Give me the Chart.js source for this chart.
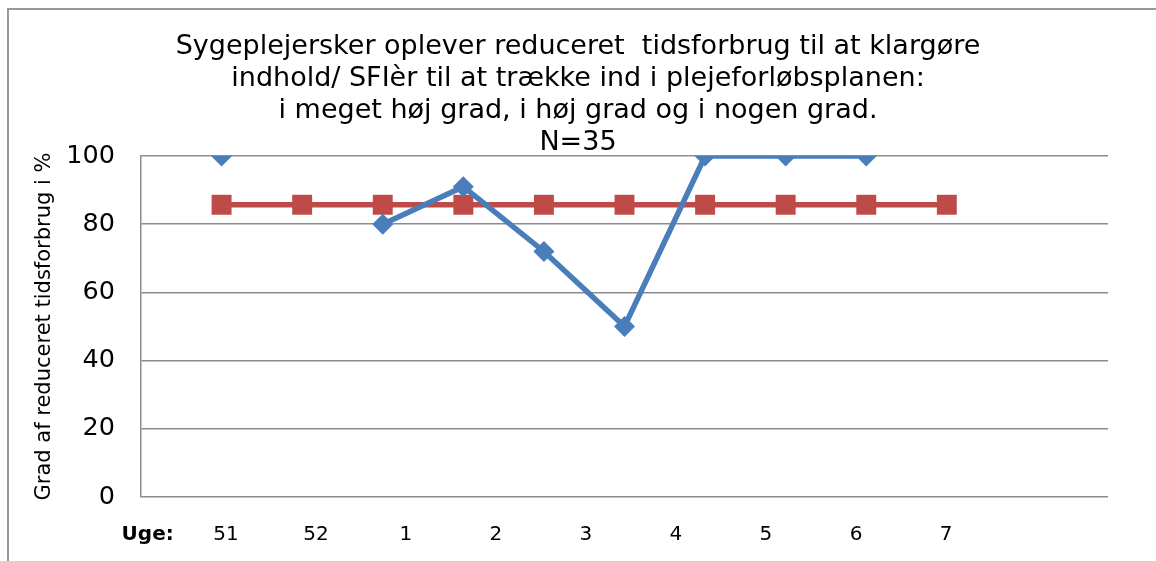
<!DOCTYPE html>
<html>
<head>
<meta charset="utf-8">
<script src="https://cdn.jsdelivr.net/npm/chart.js@4"></script>
<style>
  html, body { margin: 0; padding: 0; background: #fff; overflow: hidden; }
</style>
</head>
<body>
<canvas id="line-chart" width="1156" height="561"></canvas>
<script>
// Chart values
const TITLE_LINES = [
  "Sygeplejersker oplever reduceret  tidsforbrug til at klargøre",
  "indhold/ SFIèr til at trække ind i plejeforløbsplanen:",
  "i meget høj grad, i høj grad og i nogen grad.",
  "N=35"
];
const Y_TITLE = "Grad af reduceret tidsforbrug i %";
// slots along the plot (points sit on slots 1..10)
const SLOTS = ["", "51", "52", "1", "2", "3", "4", "5", "6", "7", "", "", ""];
const MEASURED = [null, 100, null, 80, 91, 72, 50, 100, 100, 100, null, null, null];
const TARGET = [null, 85.7, 85.7, 85.7, 85.7, 85.7, 85.7, 85.7, 85.7, 85.7, 85.7, null, null];
const WEEK_LABELS = ["Uge:", "51", "52", "1", "2", "3", "4", "5", "6", "7"];
const Y_TICKS = [0, 20, 40, 60, 80, 100];

const FONT = "'DejaVu Sans', Verdana, sans-serif";
const gridGray = "#8c8c8c";

// grey frame round the chart object (left and top edges are visible)
const framePlugin = {
  id: "frame",
  beforeDraw(chart) {
    const c = chart.ctx;
    c.save();
    c.fillStyle = "#fff";
    c.fillRect(0, 0, chart.width, chart.height);
    c.strokeStyle = "#999";
    c.lineWidth = 2;
    c.beginPath();
    c.moveTo(8, chart.height + 5);
    c.lineTo(8, 9);
    c.lineTo(chart.width + 5, 9);
    c.stroke();
    c.restore();
  }
};

const config = {
  type: "line",
  data: {
    labels: SLOTS,
    datasets: [
      {
        label: "Målt",
        data: MEASURED,
        borderColor: "#4a7ebb",
        backgroundColor: "#4a7ebb",
        borderWidth: 5.5,
        pointStyle: "rectRot",
        pointRadius: 10.5,
        pointBorderWidth: 0,
        spanGaps: false,
        tension: 0
      },
      {
        label: "Mål",
        data: TARGET,
        borderColor: "#be4b48",
        backgroundColor: "#be4b48",
        borderWidth: 5.5,
        pointStyle: "rect",
        pointRadius: 14.1,
        pointBorderWidth: 0,
        tension: 0
      }
    ]
  },
  plugins: [framePlugin],
  options: {
    responsive: false,
    animation: false,
    layout: { padding: { left: 0, right: 0, top: 0, bottom: 14 } },
    plugins: {
      legend: { display: false },
      tooltip: { enabled: false },
      title: {
        display: true,
        text: TITLE_LINES,
        color: "#000",
        font: { family: FONT, size: 27, weight: "normal", lineHeight: 32 / 27 },
        padding: { top: 31, bottom: -3 }
      }
    },
    scales: {
      x: {
        type: "category",
        offset: false,
        display: false
      },
      x2: {
        type: "linear",
        position: "bottom",
        min: 0.056,
        max: 10.8,
        grid: { display: false, drawTicks: false },
        border: { display: false },
        afterFit: (scale) => { scale.height = 50; },
        afterBuildTicks: (scale) => {
          scale.ticks = WEEK_LABELS.map((l, i) => ({ value: i === 0 ? 0.13 : i }));
        },
        ticks: {
          autoSkip: false,
          maxRotation: 0,
          padding: 26,
          color: "#000",
          font: (ctx) => ({ family: FONT, size: 20, weight: ctx.index === 0 ? "bold" : "normal" }),
          callback: (value, index) => WEEK_LABELS[index]
        }
      },
      y: {
        min: 0,
        max: 100,
        afterFit: (scale) => { scale.width = 141; },
        afterBuildTicks: (scale) => { scale.ticks = Y_TICKS.map(v => ({ value: v })); },
        grid: { color: gridGray, lineWidth: 1.5, drawTicks: false },
        border: { display: true, color: gridGray, width: 1.5 },
        ticks: {
          padding: 26,
          color: "#000",
          font: { family: FONT, size: 25.5 }
        },
        title: {
          display: true,
          text: Y_TITLE,
          color: "#000",
          font: { family: FONT, size: 21 },
          padding: { top: 32, bottom: 0 }
        }
      },
      // empty right-hand spacer so the plot stops short of the frame
      yRight: {
        position: "right",
        min: 0,
        max: 100,
        afterFit: (scale) => { scale.width = 48; },
        grid: { display: false, drawTicks: false },
        border: { display: false },
        ticks: { display: false }
      }
    }
  }
};

const ctx = document.getElementById("line-chart").getContext("2d");
window.myLine = new Chart(ctx, config);
</script>
</body>
</html>
